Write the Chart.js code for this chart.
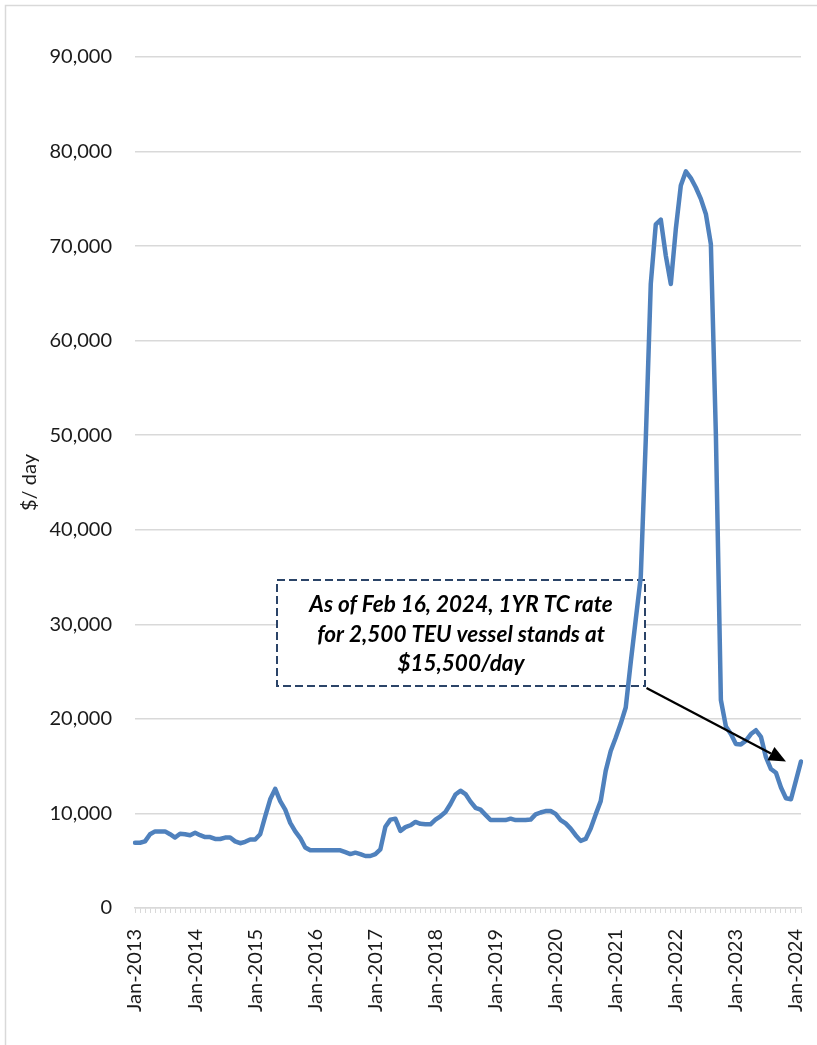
<!DOCTYPE html>
<html>
<head>
<meta charset="utf-8">
<script src="https://cdn.jsdelivr.net/npm/chart.js@4.4.1/dist/chart.umd.min.js"></script>
<style>
  html, body { margin: 0; padding: 0; background: #ffffff; }
  #wrap { position: relative; width: 817px; height: 1045px; }
  canvas { display: block; }
</style>
</head>
<body>
<div id="wrap"><canvas id="chart" width="817" height="1045"></canvas></div>
<script>
// 1-year time-charter rate, 2,500 TEU containership, monthly ($/day)
const yearTickLabels = ['Jan-2013','Jan-2014','Jan-2015','Jan-2016','Jan-2017','Jan-2018',
                        'Jan-2019','Jan-2020','Jan-2021','Jan-2022','Jan-2023','Jan-2024'];
const monthAbbr = ['Jan','Feb','Mar','Apr','May','Jun','Jul','Aug','Sep','Oct','Nov','Dec'];

const rate2013 = [6900, 6900, 7050, 7800, 8100, 8100, 8100, 7800, 7450, 7850, 7800, 7700];
const rate2014 = [7950, 7700, 7500, 7500, 7300, 7300, 7450, 7450, 7050, 6850, 7000, 7250];
const rate2015 = [7250, 7800, 9700, 11500, 12600, 11300, 10400, 9000, 8100, 7400, 6400, 6100];
const rate2016 = [6100, 6100, 6100, 6100, 6100, 6100, 5900, 5700, 5850, 5700, 5500, 5500];
const rate2017 = [5700, 6200, 8600, 9350, 9450, 8150, 8550, 8750, 9100, 8900, 8850, 8850];
const rate2018 = [9350, 9700, 10150, 11000, 12000, 12400, 12050, 11250, 10600, 10400, 9850, 9300];
const rate2019 = [9300, 9300, 9300, 9450, 9300, 9300, 9300, 9350, 9900, 10100, 10250, 10250];
const rate2020 = [9950, 9300, 8950, 8400, 7700, 7100, 7300, 8400, 9900, 11300, 14500, 16600];
const rate2021 = [18000, 19500, 21200, 26000, 30500, 35000, 49500, 66000, 72300, 72800, 69000, 66000];
const rate2022 = [71800, 76400, 77900, 77200, 76200, 75000, 73400, 70200, 50100, 22000, 19200, 18400];
const rate2023 = [17350, 17300, 17700, 18400, 18800, 18100, 15950, 14700, 14300, 12750, 11600, 11500];
const latestRate = 15500;            // Feb 16, 2024
const rate2024 = [13500, latestRate];

const rates = [].concat(rate2013, rate2014, rate2015, rate2016, rate2017, rate2018,
                        rate2019, rate2020, rate2021, rate2022, rate2023, rate2024);

// month labels Jan-2013 .. Feb-2024, one per value
const months = rates.map((_, i) => monthAbbr[i % 12] + '-' + (2013 + Math.floor(i / 12)));

const noteLines = ['As of Feb 16, 2024, 1YR TC rate', 'for 2,500 TEU vessel stands at', '$15,500/day'];
const notePointsAt = 'Nov-2023';

const GRID = '#d9d9d9';
const LINE_BLUE = '#4f81bd';
const TEXT = '#1a1a1a';
const FONT = 'Lato, "Open Sans", "DejaVu Sans", sans-serif';

// outer frame of the chart object
const framePlugin = {
  id: 'frame',
  beforeDraw(chart) {
    const ctx = chart.ctx;
    ctx.save();
    ctx.fillStyle = '#ffffff';
    ctx.fillRect(0, 0, chart.width, chart.height);
    ctx.strokeStyle = GRID;
    ctx.lineWidth = 1.5;
    ctx.beginPath();
    ctx.moveTo(5.5, chart.height);
    ctx.lineTo(5.5, 5.5);
    ctx.lineTo(chart.width, 5.5);
    ctx.stroke();
    ctx.restore();
  }
};

// dashed note box with the latest-rate text and a pointer arrow
const noteBox = { left: 277, top: 580, right: 645, bottom: 686 };
const notePlugin = {
  id: 'note',
  beforeDatasetsDraw(chart) {
    const ctx = chart.ctx;
    const b = noteBox;
    ctx.save();
    ctx.fillStyle = '#ffffff';
    ctx.fillRect(b.left, b.top, b.right - b.left, b.bottom - b.top);
    ctx.setLineDash([8, 4]);
    ctx.strokeStyle = '#2b4468';
    ctx.lineWidth = 2;
    ctx.strokeRect(b.left, b.top, b.right - b.left, b.bottom - b.top);
    ctx.setLineDash([]);
    ctx.fillStyle = '#000000';
    ctx.font = 'italic bold 22.5px ' + FONT;
    ctx.textAlign = 'center';
    ctx.textBaseline = 'alphabetic';
    const cx = (b.left + b.right) / 2;
    const baselines = [612, 642, 671];
    noteLines.forEach((t, i) => ctx.fillText(t, cx, baselines[i]));
    ctx.restore();
  },
  afterDatasetsDraw(chart) {
    const ctx = chart.ctx;
    const xs = chart.scales.x, ys = chart.scales.y;
    const x0 = noteBox.right + 1.5, y0 = noteBox.bottom + 2;
    const x1 = xs.getPixelForValue(months.indexOf(notePointsAt));
    const y1 = ys.getPixelForValue(latestRate);
    const ang = Math.atan2(y1 - y0, x1 - x0);
    const headLen = 17, headHalf = 7.5;
    const bx = x1 - headLen * Math.cos(ang), by = y1 - headLen * Math.sin(ang);
    ctx.save();
    ctx.strokeStyle = '#000000';
    ctx.fillStyle = '#000000';
    ctx.lineWidth = 2.3;
    ctx.beginPath();
    ctx.moveTo(x0, y0);
    ctx.lineTo(bx, by);
    ctx.stroke();
    ctx.beginPath();
    ctx.moveTo(x1, y1);
    ctx.lineTo(bx + headHalf * Math.sin(ang), by - headHalf * Math.cos(ang));
    ctx.lineTo(bx - headHalf * Math.sin(ang), by + headHalf * Math.cos(ang));
    ctx.closePath();
    ctx.fill();
    ctx.restore();
  }
};

function build() {
  new Chart(document.getElementById('chart'), {
    type: 'line',
    data: {
      labels: months,
      datasets: [{
        data: rates,
        borderColor: LINE_BLUE,
        borderWidth: 4.5,
        borderJoinStyle: 'round',
        borderCapStyle: 'round',
        pointRadius: 0,
        tension: 0,
        fill: false
      }]
    },
    options: {
      responsive: false,
      animation: false,
      devicePixelRatio: 1,
      layout: { padding: { top: 57, right: 16, bottom: 0, left: 0 } },
      plugins: { legend: { display: false }, tooltip: { enabled: false } },
      scales: {
        x: {
          type: 'category',
          offset: false,
          afterFit(scale) {
            scale.height = 1045 - 908;
            scale.paddingLeft = 0;
            scale.paddingRight = 0;
          },
          grid: { display: true, drawOnChartArea: false, drawTicks: true, tickLength: 5, color: GRID, lineWidth: 1 },
          border: { display: true, color: GRID, width: 1.5 },
          ticks: {
            autoSkip: false,
            maxRotation: 90,
            minRotation: 90,
            padding: 16,
            color: TEXT,
            font: { family: FONT, size: 20 },
            callback(value) {
              const lab = this.getLabelForValue(value);
              return yearTickLabels.includes(lab) ? lab : '';
            }
          }
        },
        y: {
          min: 0,
          max: 90000,
          afterFit(scale) { scale.width = 135; },
          grid: { color: GRID, lineWidth: 1.5, drawTicks: false },
          border: { display: false },
          ticks: {
            stepSize: 10000,
            padding: 23,
            color: TEXT,
            font: { family: FONT, size: 20 },
            callback: (v) => v.toLocaleString('en-US')
          },
          title: {
            display: true,
            text: '$/ day',
            color: TEXT,
            font: { family: FONT, size: 20 },
            padding: { top: 18, bottom: 0 }
          }
        }
      }
    },
    plugins: [framePlugin, notePlugin]
  });
}

const fontsReady = document.fonts
  ? Promise.all([
      document.fonts.load('20px Lato'),
      document.fonts.load('italic bold 22.5px Lato')
    ]).catch(() => null)
  : Promise.resolve();
fontsReady.then(build);
</script>
</body>
</html>
